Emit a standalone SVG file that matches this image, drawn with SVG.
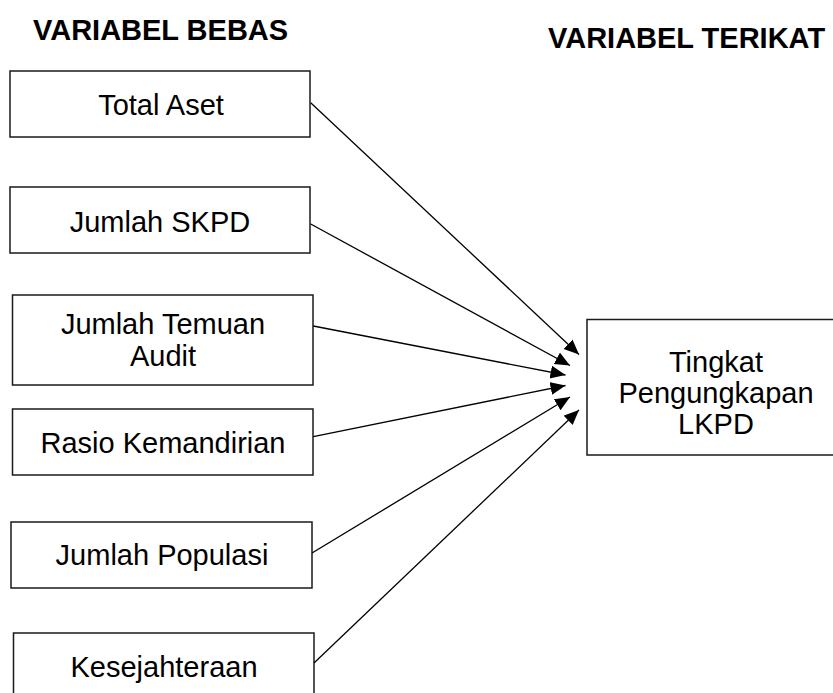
<svg xmlns="http://www.w3.org/2000/svg" width="833" height="693" viewBox="0 0 833 693">
<style>
.box{fill:#fff;stroke:#1a1a1a;stroke-width:1.5}
.t{font-family:"Liberation Sans",Arial,sans-serif;font-size:29px;fill:#000;text-anchor:middle}
.h{font-family:"Liberation Sans",Arial,sans-serif;font-size:29px;font-weight:bold;fill:#000}
.c{stroke:#000;stroke-width:1.3;fill:none;marker-end:url(#ah)}
</style>
<defs>
<marker id="ah" markerUnits="userSpaceOnUse" markerWidth="16" markerHeight="14" refX="15" refY="6.5" orient="auto">
<path d="M0,0 L15,6.5 L0,13 z" fill="#000"/>
</marker>
</defs>
<text class="h" x="33" y="40">VARIABEL BEBAS</text>
<text class="h" x="548" y="48">VARIABEL TERIKAT</text>
<g id="n1"><rect class="box" x="10" y="71" width="300" height="66"/><text class="t" x="161" y="115">Total Aset</text></g>
<g id="n2"><rect class="box" x="10" y="187" width="300" height="66"/><text class="t" x="160" y="232">Jumlah SKPD</text></g>
<g id="n3"><rect class="box" x="12.5" y="295" width="300.5" height="90"/><text class="t" x="163" y="334">Jumlah Temuan</text><text class="t" x="163" y="366">Audit</text></g>
<g id="n4"><rect class="box" x="12.5" y="409" width="300.5" height="66"/><text class="t" x="163" y="453">Rasio Kemandirian</text></g>
<g id="n5"><rect class="box" x="11" y="522" width="301" height="66"/><text class="t" x="162" y="565">Jumlah Populasi</text></g>
<g id="n6"><rect class="box" x="13.5" y="633" width="300.5" height="70"/><text class="t" x="164" y="677">Kesejahteraan</text></g>
<g id="n7"><rect class="box" x="587" y="319.5" width="260" height="135.5"/><text class="t" x="716" y="372">Tingkat</text><text class="t" x="716" y="403">Pengungkapan</text><text class="t" x="716" y="434">LKPD</text></g>
<g id="connectors">
<line class="c" x1="310.7" y1="102.7" x2="579" y2="354.5"/>
<line class="c" x1="310.7" y1="224" x2="570" y2="365.5"/>
<line class="c" x1="313.3" y1="326" x2="565.5" y2="375"/>
<line class="c" x1="313.3" y1="436.7" x2="565.5" y2="385.5"/>
<line class="c" x1="312" y1="553" x2="570" y2="397"/>
<line class="c" x1="314" y1="663" x2="579" y2="410"/>
</g>
</svg>
